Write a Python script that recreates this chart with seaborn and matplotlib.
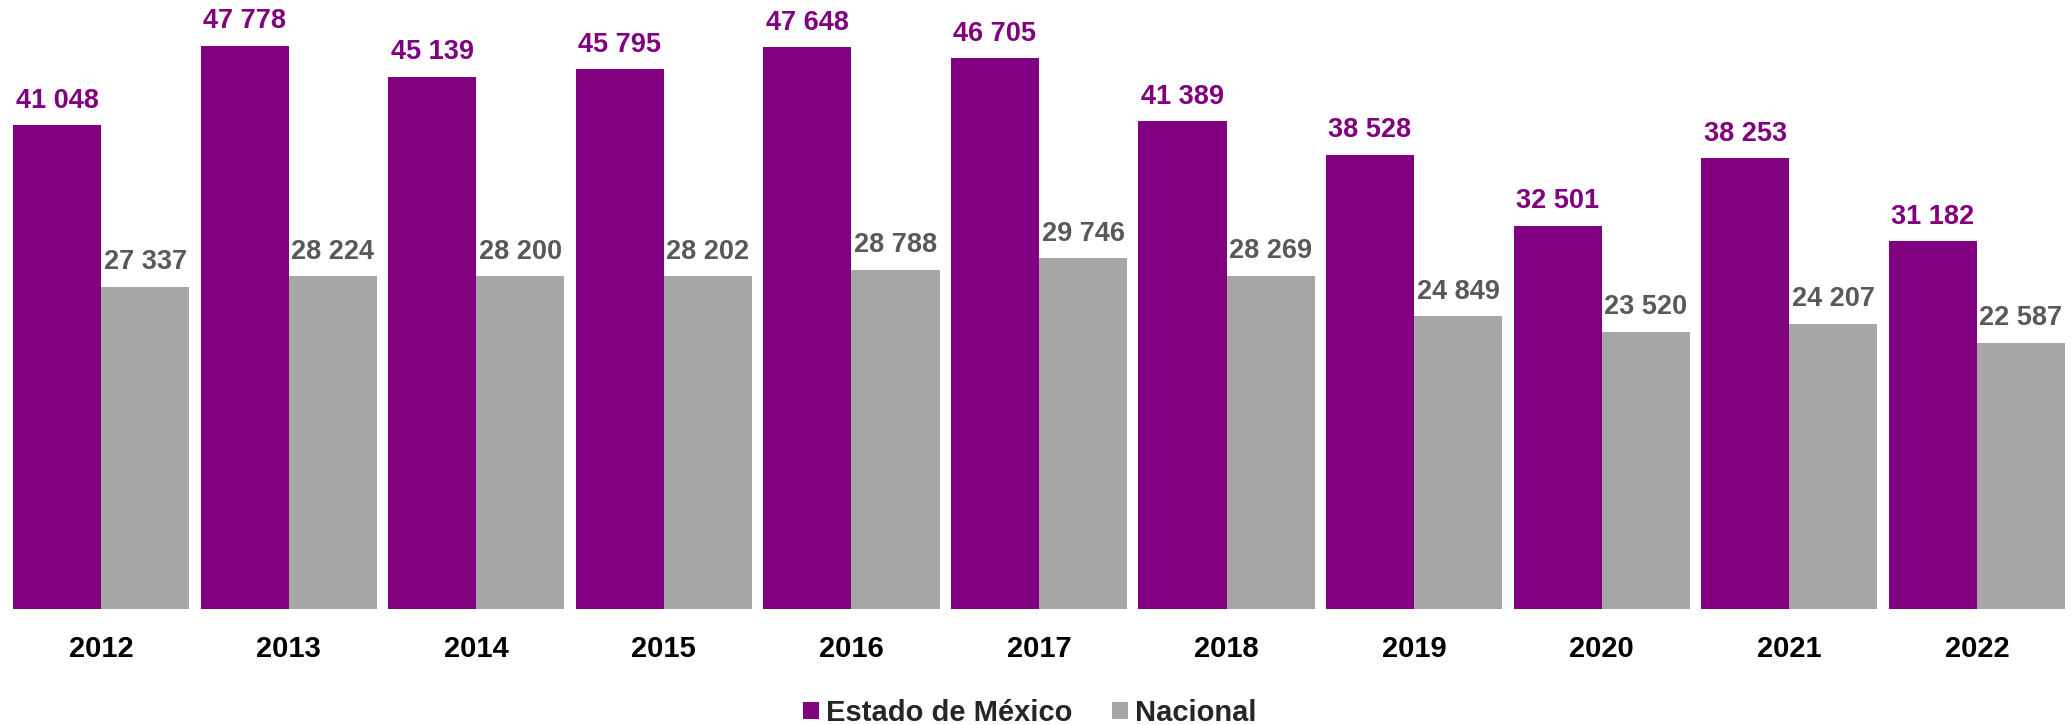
import matplotlib
matplotlib.use("Agg")
import matplotlib.pyplot as plt
import seaborn as sns
import pandas as pd
from matplotlib.patches import Patch

years = ["2012", "2013", "2014", "2015", "2016", "2017", "2018", "2019", "2020", "2021", "2022"]
edomex = [41048, 47778, 45139, 45795, 47648, 46705, 41389, 38528, 32501, 38253, 31182]
nacional = [27337, 28224, 28200, 28202, 28788, 29746, 28269, 24849, 23520, 24207, 22587]
series = ["Estado de México", "Nacional"]
colors = ["#800080", "#A6A6A6"]
label_colors = ["#800080", "#595959"]

df = pd.DataFrame({
    "year": years * 2,
    "value": edomex + nacional,
    "serie": [series[0]] * len(years) + [series[1]] * len(years),
})

sns.set_theme(style="white")
plt.rcParams["font.family"] = ["Liberation Sans", "DejaVu Sans"]

fig = plt.figure(figsize=(20.72, 7.25), dpi=100)
ax = fig.add_axes([13 / 2072, 1 - 609 / 725, 2052 / 2072, 589.6 / 725])

sns.barplot(data=df, x="year", y="value", hue="serie", palette=colors,
            width=0.94, ax=ax, saturation=1, legend=False, linewidth=0)

ax.set_xlim(-0.47, len(years) - 1 + 0.47)
ax.set_ylim(0, 50000)
ax.set_xlabel("")
ax.set_ylabel("")
ax.set_yticks([])
for s in ax.spines.values():
    s.set_visible(False)
ax.tick_params(axis="x", length=0, pad=19, labelsize=21)
for t in ax.get_xticklabels():
    t.set_fontweight("bold")
    t.set_color("black")

for cont, lc in zip(ax.containers, label_colors):
    labels = [f"{int(v):,}".replace(",", " ") for v in cont.datavalues]
    for bar, lab in zip(cont, labels):
        ax.annotate(lab, (bar.get_x() + bar.get_width() / 2, bar.get_height()),
                    xytext=(0, 12.5), textcoords="offset points",
                    ha="center", va="baseline", fontsize=19.5,
                    fontweight="bold", color=lc, annotation_clip=False)

handles = [Patch(facecolor=c, edgecolor="none") for c in colors]
leg = fig.legend(handles, series, loc="center", bbox_to_anchor=(1030 / 2072, 1 - 713 / 725),
                 ncol=2, frameon=False, handlelength=0.55, handleheight=0.55,
                 handletextpad=0.25, columnspacing=1.35,
                 prop={"size": 21, "weight": "bold"})

fig.savefig("out.png", dpi=100)
